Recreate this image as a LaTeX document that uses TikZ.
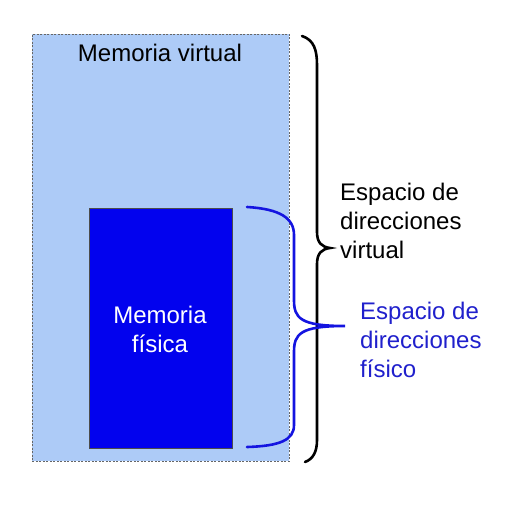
\documentclass[tikz,border=0pt]{standalone}
\usepackage{fontspec}
\setmainfont{Liberation Sans}
\definecolor{lightvm}{HTML}{ADCBF7}
\definecolor{physblue}{HTML}{0202EE}
\definecolor{bracebl}{HTML}{1414E0}
\definecolor{txtblue}{HTML}{2020CC}
\begin{document}
\begin{tikzpicture}[x=1pt,y=-1pt,
  lbl/.style={font=\fontsize{24}{29}\selectfont, align=left, anchor=base west, inner sep=0pt},
  brace/.style={line width=2.6pt, line cap=round}]
\useasboundingbox (0,0) rectangle (516,508);
\node[draw=gray!80!black, dashed, dash pattern=on 2pt off 1.5pt, line width=0.6pt, fill=lightvm,
  minimum width=257pt, minimum height=427pt, inner sep=0pt, anchor=north west] (vm) at (32,34) {};
\node[draw=black!70, line width=0.4pt, fill=physblue, minimum width=143pt, minimum height=240pt,
  inner sep=0pt, anchor=north west] (pm) at (89,208) {};
\node[font=\fontsize{24}{29}\selectfont, anchor=base, inner sep=0pt] (vmt) at (160,62) {Memoria virtual};
\node[font=\fontsize{24}{29}\selectfont, text=white, align=center, anchor=base, inner sep=0pt] (pmt) at (160,352) {Memoria\\física};
\node[lbl] (evt) at (340,258) {Espacio de\\direcciones\\virtual};
\node[lbl, text=txtblue] (eft) at (360,377) {Espacio de\\direcciones\\físico};
\draw[brace] (302,36) .. controls (314,40) and (317,50) .. (317,65) -- (317,232)
  .. controls (317,243) and (322,247) .. (330,248) .. controls (322,249) and (317,253) .. (317,264)
  -- (317,440) .. controls (317,452) and (313,459) .. (305,462);
\draw[brace, color=bracebl] (247,207) .. controls (280,209) and (294,218) .. (294,235) -- (294,300)
  .. controls (294,318) and (300,326) .. (345,326) .. controls (300,326) and (294,334) .. (294,352)
  -- (294,425) .. controls (294,440) and (280,446) .. (247,447);
\end{tikzpicture}
\end{document}
